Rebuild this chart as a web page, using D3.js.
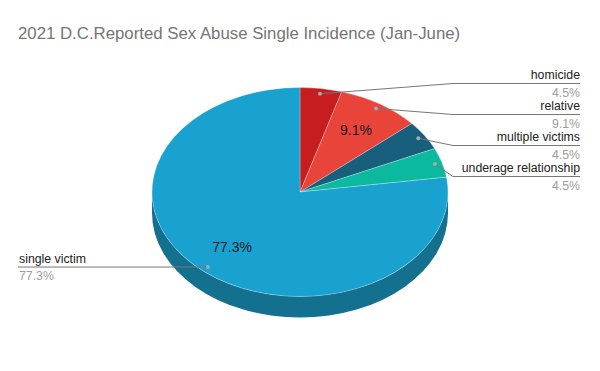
<!DOCTYPE html>
<html><head><meta charset="utf-8">
<script src="https://cdn.jsdelivr.net/npm/d3@7"></script>
<style>body{margin:0;background:#fff}svg{display:block}</style>
</head><body>
<svg id="c" width="600" height="371"></svg>
<script>
const categories = ["homicide", "relative", "multiple victims", "underage relationship", "single victim"];
const counts = [1, 2, 1, 1, 17];
const colors = ["#c61e1e", "#e9443a", "#175f7c", "#0bb99e", "#19a1cf"];
const sideColors = ["#8f1515", "#a8302a", "#10435a", "#088572", "#13708f"];
const title = "2021 D.C.Reported Sex Abuse Single Incidence (Jan-June)";

const svg = d3.select("#c");
const W = 600, H = 371;
svg.append("rect").attr("width", W).attr("height", H).attr("fill", "#fff");

const cx = 300, cy = 192, rx = 148, ry = 104.5, depth = 21;
const total = d3.sum(counts);
const fmt = v => (v / total * 100).toFixed(1) + "%";
const data = categories.map((c, i) => ({name: c, value: counts[i], color: colors[i], side: sideColors[i]}));
const arcs = d3.pie().sort(null).value(d => d.value)(data);

const pt = (a, f = 1, dy = 0) => [cx + f * rx * Math.sin(a), cy - f * ry * Math.cos(a) + dy];

function topPath(a0, a1) {
  const p = d3.path();
  const s = pt(a0), e = pt(a1);
  p.moveTo(cx, cy); p.lineTo(s[0], s[1]);
  const large = (a1 - a0) > Math.PI ? 1 : 0;
  return p.toString() + `A${rx},${ry} 0 ${large} 1 ${e[0]},${e[1]}Z`;
}
function sidePath(a0, a1) {
  const lo = Math.max(a0, Math.PI / 2), hi = Math.min(a1, 3 * Math.PI / 2);
  if (hi <= lo) return null;
  const s = pt(lo), e = pt(hi), e2 = pt(hi, 1, depth), s2 = pt(lo, 1, depth);
  const large = (hi - lo) > Math.PI ? 1 : 0;
  return `M${s[0]},${s[1]}A${rx},${ry} 0 ${large} 1 ${e[0]},${e[1]}L${e2[0]},${e2[1]}A${rx},${ry} 0 ${large} 0 ${s2[0]},${s2[1]}Z`;
}

const g = svg.append("g");
arcs.forEach(a => {
  const d = sidePath(a.startAngle, a.endAngle);
  if (d) g.append("path").attr("d", d).attr("fill", a.data.side);
});
arcs.forEach(a => {
  g.append("path").attr("d", topPath(a.startAngle, a.endAngle))
    .attr("fill", a.data.color).attr("stroke", "rgba(255,255,255,0.45)").attr("stroke-width", 0.6)
    .attr("stroke-linejoin", "round");
});

// inside labels
arcs.forEach(a => {
  if (a.value / total < 0.05) return;
  const m = (a.startAngle + a.endAngle) / 2;
  const p = pt(m, 0.7);
  svg.append("text").attr("x", p[0]).attr("y", p[1] + 5).attr("text-anchor", "middle")
    .attr("font-family", "Liberation Sans, Arial, sans-serif").attr("font-size", 14)
    .attr("fill", "#1a1a1a").text(fmt(a.value));
});

// title
svg.append("text").attr("x", 18).attr("y", 38.5)
  .attr("font-family", "Liberation Sans, Arial, sans-serif").attr("font-size", 16.8)
  .attr("fill", "#757575").text(title);

// leader labels
const right = arcs.filter(a => (a.startAngle + a.endAngle) / 2 < Math.PI);
const left = arcs.filter(a => (a.startAngle + a.endAngle) / 2 >= Math.PI);
const lab = svg.append("g").attr("font-family", "Liberation Sans, Arial, sans-serif").attr("font-size", 12.3);
right.forEach((a, i) => {
  const m = (a.startAngle + a.endAngle) / 2;
  const d = pt(m, 0.95);
  const ly = 83.5 + i * 31;
  lab.append("path").attr("d", `M${d[0]},${d[1]}L453,${ly}L580,${ly}`).attr("fill", "none").attr("stroke", "#777").attr("stroke-width", 1);
  lab.append("circle").attr("cx", d[0]).attr("cy", d[1]).attr("r", 2).attr("fill", "#a8a8a8");
  lab.append("text").attr("x", 580).attr("y", ly - 4.5).attr("text-anchor", "end").attr("fill", "#222").text(a.data.name);
  lab.append("text").attr("x", 580).attr("y", ly + 13).attr("text-anchor", "end").attr("fill", "#9e9e9e").text(fmt(a.value));
});
left.forEach((a, i) => {
  const m = (a.startAngle + a.endAngle) / 2;
  const d = pt(m, 0.95);
  const ly = d[1];
  lab.append("path").attr("d", `M${d[0]},${d[1]}L18,${ly}`).attr("fill", "none").attr("stroke", "#777").attr("stroke-width", 1);
  lab.append("circle").attr("cx", d[0]).attr("cy", d[1]).attr("r", 2).attr("fill", "#a8a8a8");
  lab.append("text").attr("x", 19).attr("y", ly - 4.5).attr("fill", "#222").text(a.data.name);
  lab.append("text").attr("x", 19).attr("y", ly + 13).attr("fill", "#9e9e9e").text(fmt(a.value));
});
</script>
</body></html>
